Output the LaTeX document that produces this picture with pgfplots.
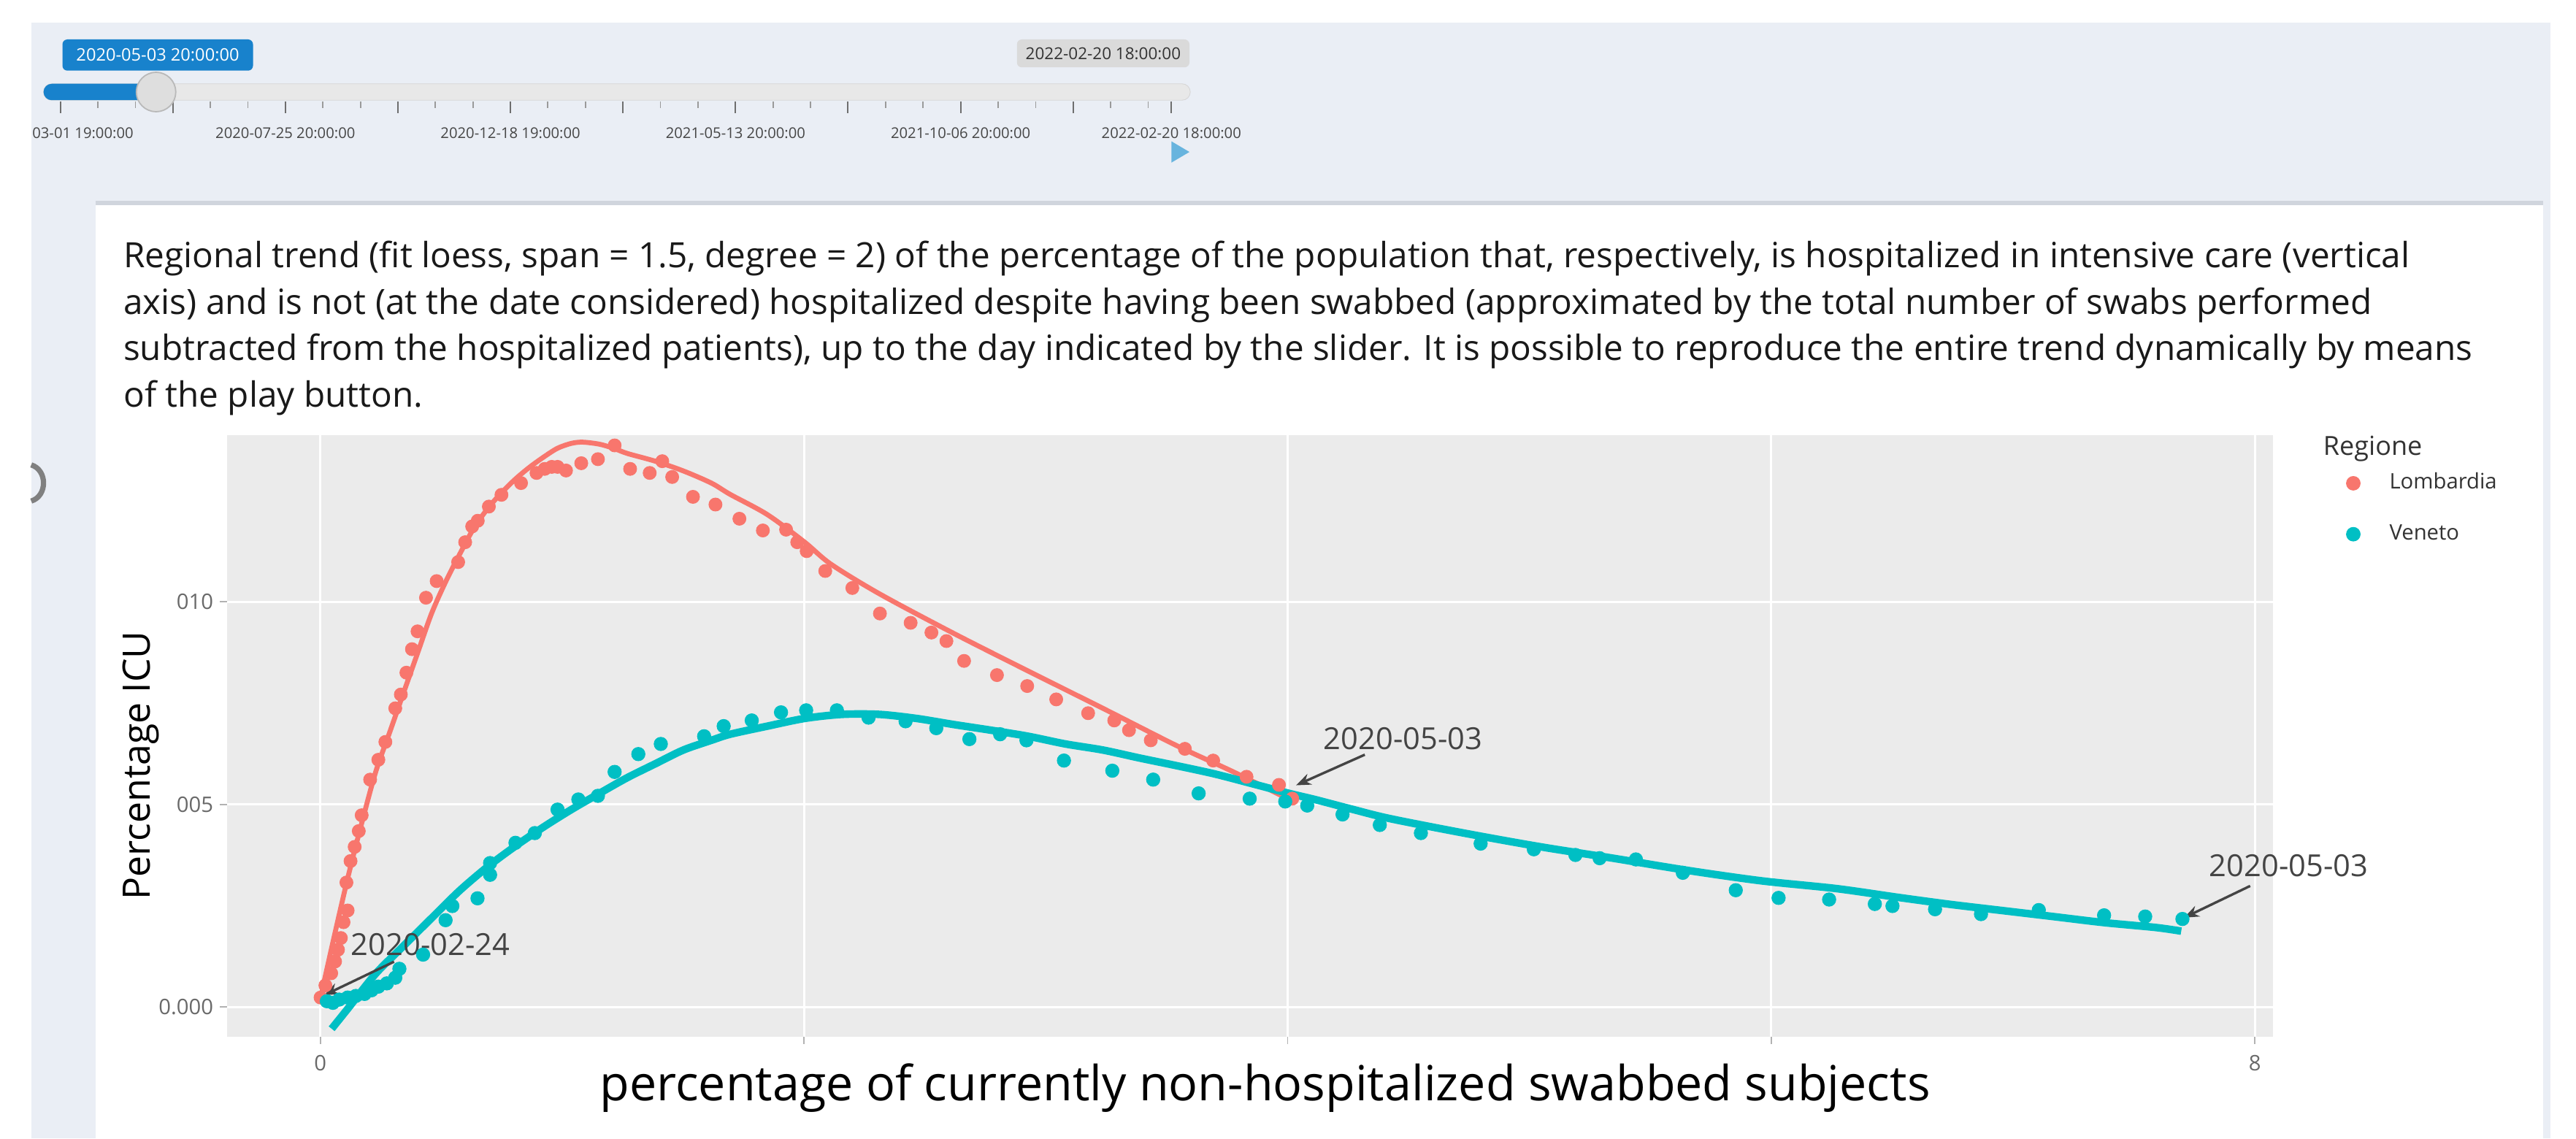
\documentclass[border=0pt]{standalone}
\usepackage{pgfplots}
\pgfplotsset{compat=1.18}
\usepackage{fontspec}
\setmainfont{Open Sans}
\usetikzlibrary{arrows.meta}
\definecolor{lightbg}{RGB}{234,238,245}
\definecolor{panel}{RGB}{235,235,235}
\definecolor{lomb}{HTML}{F8766D}
\definecolor{vene}{HTML}{00BFC4}
\definecolor{sliderblue}{RGB}{24,130,204}
\definecolor{annot}{RGB}{68,68,68}
\definecolor{ticktext}{RGB}{105,105,105}
\definecolor{legtext}{RGB}{51,51,51}
\definecolor{bodytext}{RGB}{25,25,25}
\definecolor{playblue}{RGB}{104,180,222}
\definecolor{trackfill}{RGB}{232,232,232}
\definecolor{trackborder}{RGB}{214,214,214}
\definecolor{knobfill}{RGB}{222,222,222}
\definecolor{knobborder}{RGB}{185,185,185}
\definecolor{greybox}{RGB}{218,218,218}
\definecolor{slidertick}{RGB}{110,110,110}
\definecolor{sliderlabel}{RGB}{70,70,70}
\definecolor{cardline}{RGB}{208,213,221}
\definecolor{arcgrey}{RGB}{128,128,128}
\newcommand{\fs}[1]{\fontsize{#1}{#1}\selectfont}
\begin{document}
\begin{tikzpicture}
\begin{scope}[x=1pt,y=-1pt]
\path[use as bounding box] (0,0) rectangle (1568,693);
\fill[white] (0,0) rectangle (1568,693);
\fill[lightbg] (19,14) rectangle (1552.5,693);
\fill[white] (58,123) rectangle (1548,693);
\draw[cardline, line width=2.5pt] (58,123.5) -- (1548,123.5);
% slider
\draw[draw=trackborder, fill=trackfill, rounded corners=5pt] (26.5,51) rectangle (724.5,61);
\fill[sliderblue, rounded corners=5pt] (26.5,51) rectangle (96,61);
\foreach \t in {36.7,105.2,173.7,242.2,310.7,379.2,447.7,516.2,584.7,653.2,713}
  \draw[slidertick, line width=0.9pt] (\t,62) -- (\t,69);
\foreach \k in {0,...,9}{
  \pgfmathsetmacro\a{36.7+68.5*\k+22.8}
  \pgfmathsetmacro\b{36.7+68.5*\k+45.7}
  \draw[slidertick!70, line width=0.8pt] (\a,62) -- (\a,66);
  \draw[slidertick!70, line width=0.8pt] (\b,62) -- (\b,66);
}
\draw[fill=knobfill, draw=knobborder, line width=0.8pt] (95,56) circle (12pt);
\fill[sliderblue, rounded corners=3pt] (38,24) rectangle (154,43);
\node[text=white, font=\fs{10.5}, inner sep=0] at (96,33.5) {2020-05-03 20:00:00};
\fill[greybox, rounded corners=3pt] (619,24) rectangle (724,41);
\node[text=legtext, font=\fs{10}, inner sep=0] at (671.5,32.5) {2022-02-20 18:00:00};
\node[text=sliderlabel, font=\fs{9}, inner sep=0, anchor=west] at (19.5,81) {03-01 19:00:00};
\foreach \x/\l in {173.7/2020-07-25 20:00:00,310.7/2020-12-18 19:00:00,447.7/2021-05-13 20:00:00,584.7/2021-10-06 20:00:00,713/2022-02-20 18:00:00}
  \node[text=sliderlabel, font=\fs{9}, inner sep=0] at (\x,81) {\l};
\fill[playblue] (713,86) -- (713,99) -- (724,92.5) -- cycle;
\draw[arcgrey, line width=3.2pt] (19,283) .. controls (29,286) and (29,302) .. (19,305);
% paragraph
\node[anchor=base west, inner sep=0, font=\fs{21.2}, text=bodytext] at (75,163) {Regional trend (fit loess, span = 1.5, degree = 2) of the percentage of the population that, respectively, is hospitalized in intensive care (vertical};
\node[anchor=base west, inner sep=0, font=\fs{21.2}, text=bodytext] at (75,191.2) {axis) and is not (at the date considered) hospitalized despite having been swabbed (approximated by the total number of swabs performed};
\node[anchor=base west, inner sep=0, font=\fs{21.2}, text=bodytext] at (75,219.4) {subtracted from the hospitalized patients), up to the day indicated by the slider. It is possible to reproduce the entire trend dynamically by means};
\node[anchor=base west, inner sep=0, font=\fs{21.2}, text=bodytext] at (75,247.6) {of the play button.};
\node[anchor=west, inner sep=0, font=\fs{16}, text=legtext] at (1414,273) {Regione};
\end{scope}

\begin{axis}[
  at={(138.3pt,-631pt)}, anchor=south west,
  scale only axis, width=1245.3pt, height=366pt,
  xmin=-0.385, xmax=8.075, ymin=-0.000734, ymax=0.014108,
  axis background/.style={fill=panel},
  axis line style={draw=none},
  grid=major, major grid style={white, line width=1.3pt},
  xtick={0,2,4,6,8}, xticklabels={0,,,,8},
  ytick={0,0.005,0.01}, yticklabels={0.000,005,010},
  scaled y ticks=false, scaled x ticks=false,
  /pgf/number format/assume math mode=true,
  tick align=outside, major tick length=4.5pt,
  tick style={black!30, line width=0.8pt},
  xtick pos=bottom, ytick pos=left,
  ticklabel style={font=\fs{13}, text=ticktext, inner sep=0pt},
  xticklabel style={yshift=-6.5pt},
  yticklabel style={xshift=-3.8pt},
  xlabel={percentage of currently non-hospitalized swabbed subjects},
  xlabel style={at={(axis description cs:0.5073,-0.1066)}, anchor=base, font=\fs{29.5}, text=black, inner sep=0pt},
  ylabel={Percentage ICU},
  ylabel style={at={(axis description cs:-0.042,0.4508)}, anchor=center, font=\fs{23}, text=black, inner sep=0pt},
  clip=false,
  legend style={draw=none, fill=none, at={(axis description cs:1.0355,0.9372)}, anchor=north west,
    font=\fs{13}, text=legtext, row sep=19pt, inner sep=0pt, column sep=0pt,
    nodes={inner sep=0pt, text height=9.5pt, text depth=2.5pt}},
  legend cell align=left,
]
\addplot[lomb, line width=3pt, line join=round, smooth, forget plot] coordinates {
(0.001,0.00023)(0.056,0.00170)(0.113,0.00317)(0.171,0.00453)(0.229,0.00580)(0.287,0.00678)(0.344,0.00775)(0.402,0.00873)(0.460,0.00971)(0.518,0.01049)(0.576,0.01117)(0.634,0.01181)(0.692,0.01230)(0.749,0.01269)(0.807,0.01303)(0.865,0.01332)(0.923,0.01357)(0.981,0.01379)(1.038,0.01391)(1.085,0.01394)(1.154,0.01389)(1.212,0.01379)(1.270,0.01366)(1.385,0.01347)(1.501,0.01323)(1.617,0.01293)(1.695,0.01265)(1.849,0.01215)(2.003,0.01147)(2.111,0.01093)(2.311,0.01020)(2.619,0.00922)(2.927,0.00829)(3.236,0.00737)(3.544,0.00644)(3.776,0.00580)(4.006,0.00512)
};
\addplot[only marks, mark=*, mark size=4pt, color=lomb, mark options={draw=none, fill=lomb},
  legend image code/.code={\fill[lomb] (4.2pt,0pt) circle (4.2pt); \path[draw=none] (0pt,0pt) -- (26.2pt,0pt);}] coordinates {
(0.001,0.00023)(0.021,0.00053)(0.045,0.00083)(0.061,0.00112)(0.073,0.00141)(0.085,0.00170)(0.096,0.00209)(0.113,0.00238)(0.108,0.00307)(0.125,0.00360)(0.142,0.00395)(0.159,0.00434)(0.171,0.00473)(0.206,0.00561)(0.240,0.00610)(0.269,0.00654)(0.310,0.00737)(0.333,0.00771)(0.356,0.00825)(0.379,0.00883)(0.402,0.00927)(0.437,0.0101)(0.481,0.01051)(0.570,0.01098)(0.599,0.01147)(0.628,0.01186)(0.651,0.01200)(0.697,0.01235)(0.749,0.01264)(0.830,0.01293)(0.894,0.01318)(0.928,0.01328)(0.957,0.01333)(0.981,0.01333)(1.016,0.01324)(1.079,0.01342)(1.148,0.01352)(1.217,0.01386)(1.281,0.01328)(1.362,0.01318)(1.414,0.01347)(1.455,0.01308)(1.541,0.01259)(1.634,0.01240)
(1.733,0.01205)(1.830,0.01176)(1.926,0.01178)(1.972,0.01147)(2.011,0.01125)(2.088,0.01076)(2.200,0.01034)(2.314,0.00971)(2.441,0.00948)(2.527,0.00924)(2.589,0.00903)(2.662,0.00854)(2.798,0.00819)(2.923,0.00792)(3.043,0.00759)(3.175,0.00725)(3.283,0.00707)(3.344,0.00683)(3.434,0.00658)(3.575,0.00637)(3.692,0.00608)(3.830,0.00568)(3.964,0.00548)(4.019,0.00514)
};
\addlegendentry{Lombardia}
\addplot[only marks, mark=*, mark size=4.1pt, color=vene, mark options={draw=none, fill=vene},
  legend image code/.code={\fill[vene] (4.2pt,0pt) circle (4.2pt); \path[draw=none] (0pt,0pt) -- (26.2pt,0pt);}] coordinates {
(0.027,0.00014)(0.052,0.00010)(0.078,0.00018)(0.113,0.00023)(0.147,0.00027)(0.183,0.00032)(0.212,0.00041)(0.240,0.00050)(0.275,0.00058)(0.310,0.00072)(0.327,0.00094)(0.425,0.00129)(0.518,0.00214)(0.546,0.00249)(0.650,0.00268)(0.702,0.00326)(0.702,0.00355)(0.807,0.00405)(0.887,0.00429)(0.981,0.00487)(1.067,0.00512)(1.148,0.00521)(1.217,0.00580)(1.315,0.00624)(1.408,0.00649)(1.587,0.00668)(1.668,0.00693)
(1.784,0.00707)(1.905,0.00727)(2.009,0.00732)(2.136,0.00732)(2.267,0.00714)(2.420,0.00705)(2.547,0.00688)(2.684,0.00661)(2.811,0.00673)(2.920,0.00658)(3.075,0.00608)(3.275,0.00583)(3.444,0.00561)(3.632,0.00527)(3.843,0.00514)(3.990,0.00507)(4.081,0.00497)
(4.227,0.00475)(4.381,0.00449)(4.551,0.00429)(4.798,0.00403)(5.018,0.00389)(5.190,0.00375)(5.290,0.00367)(5.440,0.00364)(5.634,0.00331)(5.853,0.00288)(6.030,0.00269)(6.239,0.00265)(6.428,0.00254)(6.501,0.00249)
(6.677,0.00241)(6.867,0.00229)(7.106,0.00239)(7.376,0.00226)(7.546,0.00223)(7.700,0.00217)
};
\addlegendentry{Veneto}
\addplot[vene, line width=4.6pt, line join=round, smooth, forget plot] coordinates {
(0.047,-0.00054)(0.113,-0.00005)(0.229,0.00082)(0.345,0.00151)(0.460,0.00219)(0.576,0.00287)(0.692,0.00346)(0.807,0.00397)(0.923,0.00444)(1.038,0.00487)(1.154,0.00527)(1.270,0.00566)(1.385,0.00600)(1.501,0.00634)(1.617,0.00658)(1.695,0.00673)(1.849,0.00693)(2.003,0.00712)(2.157,0.00722)(2.311,0.00722)(2.465,0.00712)(2.619,0.00697)(2.773,0.00683)(2.927,0.00668)(3.081,0.00649)(3.236,0.00634)(3.390,0.00614)(3.544,0.00595)(3.698,0.00575)(3.853,0.00551)(4.006,0.00527)(4.112,0.00512)(4.266,0.00488)(4.421,0.00465)(4.729,0.00429)(5.037,0.00396)(5.345,0.00367)(5.653,0.00337)(5.961,0.00311)(6.269,0.00292)(6.528,0.00270)(6.740,0.00253)(6.952,0.00238)(7.165,0.00223)(7.376,0.00208)(7.589,0.00196)(7.695,0.00187)
};
% annotations
\node[font=\fs{18.5}, text=annot, inner sep=0pt] at (axis cs:0.455,0.001537) {2020-02-24};
\draw[annot, line width=1.5pt, -{Stealth[length=9pt,width=7pt]}] (axis cs:0.305,0.001115) -- (axis cs:0.0156,0.000288);
\node[font=\fs{18.5}, text=annot, inner sep=0pt] at (axis cs:4.477,0.006622) {2020-05-03};
\draw[annot, line width=1.5pt, -{Stealth[length=9pt,width=7pt]}] (axis cs:4.319,0.006225) -- (axis cs:4.035,0.005470);
\node[font=\fs{18.5}, text=annot, inner sep=0pt] at (axis cs:8.139,0.003483) {2020-05-03};
\draw[annot, line width=1.5pt, -{Stealth[length=9pt,width=7pt]}] (axis cs:7.980,0.002985) -- (axis cs:7.707,0.002202);
\end{axis}
\end{tikzpicture}
\end{document}
